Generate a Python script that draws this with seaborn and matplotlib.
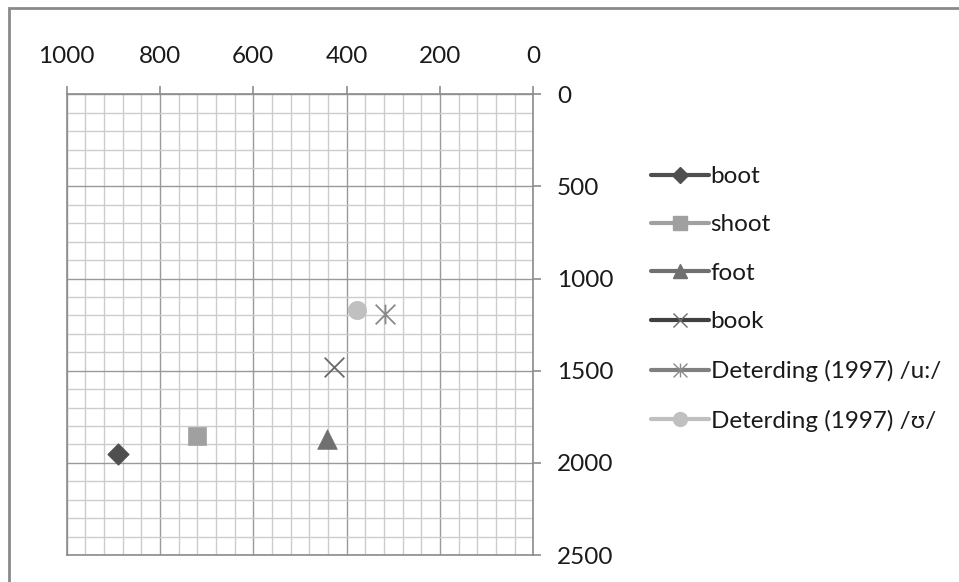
import numpy as np
import pandas as pd
import seaborn as sns
import matplotlib.pyplot as plt
from matplotlib.lines import Line2D
from matplotlib.path import Path
from matplotlib.patches import Rectangle
from matplotlib.ticker import MultipleLocator

# Formant measurements (Hz): F2 on the horizontal axis, F1 on the vertical axis
vowels = ["boot", "shoot", "foot", "book",
          "Deterding (1997) /u:/", "Deterding (1997) /ʊ/"]
f2_values = [890, 720, 442, 428, 318, 378]
f1_values = [1952, 1853, 1873, 1480, 1193, 1173]

x_ticks = [1000, 800, 600, 400, 200, 0]
y_ticks = [0, 500, 1000, 1500, 2000, 2500]

# Asterisk marker: an x with a vertical stroke through it
star_path = Path(
    [(-1, -1), (1, 1), (-1, 1), (1, -1), (0, -1), (0, 1)],
    [Path.MOVETO, Path.LINETO, Path.MOVETO, Path.LINETO, Path.MOVETO, Path.LINETO],
)

styles = {
    "boot": dict(marker="D", s=120, color="#4f4f4f", line="#4f4f4f", ms=8),
    "shoot": dict(marker="s", s=175, color="#a0a0a0", line="#a0a0a0", ms=10),
    "foot": dict(marker="^", s=200, color="#707070", line="#707070", ms=10.5),
    "book": dict(marker="x", s=200, color="#6a6a6a", line="#404040", ms=10),
    "Deterding (1997) /u:/": dict(marker=star_path, s=200, color="#8a8a8a", line="#808080", ms=10),
    "Deterding (1997) /ʊ/": dict(marker="o", s=175, color="#c0c0c0", line="#c0c0c0", ms=10),
}

df = pd.DataFrame({"F2": f2_values, "F1": f1_values, "vowel": vowels})

sns.set_theme(style="white")
plt.rcParams["font.family"] = ["Lato", "DejaVu Sans"]
plt.rcParams["text.color"] = "#1a1a1a"
plt.rcParams["xtick.color"] = "#1a1a1a"
plt.rcParams["ytick.color"] = "#1a1a1a"

fig = plt.figure(figsize=(9.59, 5.82), dpi=100)
ax = fig.add_axes([66.7 / 959, 1 - 555 / 582, (533.3 - 66.7) / 959, (555 - 94.3) / 582])

for v in vowels:
    st = styles[v]
    sub = df[df["vowel"] == v]
    sns.scatterplot(data=sub, x="F2", y="F1", ax=ax, marker=st["marker"], s=st["s"],
                    color=st["color"], edgecolor=st["color"],
                    linewidth=1.3 if v in ("book", "Deterding (1997) /u:/") else 0.5,
                    legend=False, zorder=5)

ax.set_xlim(1000, 0)
ax.set_ylim(2500, 0)
ax.xaxis.tick_top()
ax.yaxis.tick_right()
ax.set_xticks(x_ticks)
ax.set_yticks(y_ticks)
ax.xaxis.set_minor_locator(MultipleLocator(40))
ax.yaxis.set_minor_locator(MultipleLocator(100))
ax.set_xlabel("")
ax.set_ylabel("")

ax.set_axisbelow(True)
ax.grid(which="minor", color="#cccccc", linewidth=1.0)
ax.grid(which="major", color="#999999", linewidth=1.0)
for sp in ax.spines.values():
    sp.set_color("#8c8c8c")
    sp.set_linewidth(1.2)

ax.tick_params(axis="both", which="major", length=6, width=1.2, color="#8c8c8c",
               labelsize=17.5, direction="out")
ax.tick_params(axis="x", which="major", pad=14)
ax.tick_params(axis="y", which="major", pad=11)
ax.tick_params(which="minor", length=0)

handles = []
for v in vowels:
    st = styles[v]
    handles.append(Line2D([0], [0], color=st["line"], lw=3, marker=st["marker"],
                          ms=st["ms"], mfc=st["color"], mec=st["color"],
                          mew=1.0))
fig.legend(handles, vowels, loc="upper left",
           bbox_to_anchor=(651 / 959, 1 - 166 / 582), frameon=False,
           fontsize=17.5, handlelength=2.4, handletextpad=0.05,
           labelspacing=1.13, borderpad=0, borderaxespad=0)

# Outer chart-area frame
fig.patches.append(Rectangle((9 / 959, -0.1), 1.2, 1 - 8 / 582 + 0.1,
                             transform=fig.transFigure, fill=False,
                             edgecolor="#8a8a8a", linewidth=2))

fig.savefig("out.png", dpi=100)
